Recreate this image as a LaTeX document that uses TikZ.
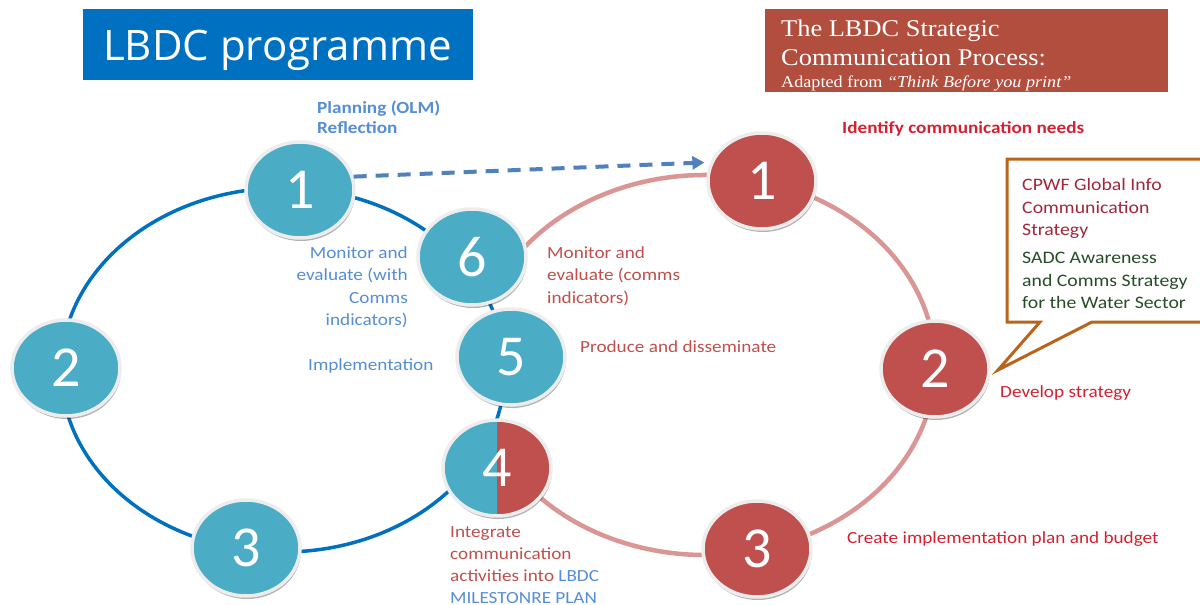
\documentclass[tikz,border=0pt]{standalone}
\usepackage{fontspec}
\setmainfont{Carlito}[FakeStretch=1.13]
\newfontfamily\titlefont{Open Sans}
\newfontfamily\cambfont{Liberation Serif}[FakeStretch=1.1]
\newfontfamily\digitfont{Carlito}
\usetikzlibrary{shapes.geometric,arrows.meta,shadows}
\definecolor{teal1}{HTML}{4BACC6}
\definecolor{red1}{HTML}{C0504D}
\definecolor{ringblue}{HTML}{0070C0}
\definecolor{ringpink}{HTML}{D99694}
\definecolor{dashblue}{HTML}{4F81BD}
\definecolor{lblblue}{HTML}{558ED5}
\definecolor{lblred}{HTML}{C0504D}
\definecolor{crimson}{HTML}{D42030}
\definecolor{titleblue}{HTML}{0070C0}
\definecolor{titlered}{HTML}{B14E3E}
\definecolor{calloutc}{HTML}{B8651B}
\definecolor{cpwf}{HTML}{A0283C}
\definecolor{sadc}{HTML}{264D26}
\begin{document}
\begin{tikzpicture}[x=1pt,y=-1pt,
  stepcirc/.style={ellipse, minimum width=108pt, minimum height=96pt, inner sep=0pt,
    draw=white!93!black, line width=3.5pt, text=white,
    font=\digitfont\fontsize{58}{58}\selectfont,
    drop shadow={shadow xshift=1pt, shadow yshift=-3pt, fill=black, opacity=0.3}},
  bluecirc/.style={stepcirc, fill=teal1},
  redcirc/.style={stepcirc, fill=red1},
  lbl/.style={inner sep=0pt, font=\fontsize{17}{22}\selectfont},
  lblL/.style={lbl, anchor=base west},
  lblR/.style={lbl, anchor=base east},
  boldlbl/.style={inner sep=0pt, anchor=base west, font=\fontsize{17}{20}\selectfont\bfseries},
  camb/.style={inner sep=0pt, anchor=base west, text=white},
]
\useasboundingbox (0,0) rectangle (1200,605);
\fill[white] (0,0) rectangle (1200,605);

% rings
\draw[ringblue, line width=3.5pt] (283,370) ellipse [x radius=222, y radius=182];
\draw[ringpink, line width=4.5pt] ([shift={(147:230 and 190)}]705,365)
  arc[start angle=147, end angle=-149, x radius=230, y radius=190];

% title boxes
\node[fill=titleblue, minimum width=390pt, minimum height=71pt, inner sep=0pt] (T1) at (278,44.5) {};
\node[anchor=base, inner sep=0pt, text=white, font=\titlefont\fontsize{42}{50}\selectfont] (T1t) at (277.5,60) {LBDC programme};
\node[fill=titlered, minimum width=403pt, minimum height=83pt, inner sep=0pt] (T2) at (966.5,50.5) {};
\node[camb, font=\cambfont\fontsize{24}{28}\selectfont] (T2a) at (781,36) {The LBDC Strategic};
\node[camb, font=\cambfont\fontsize{24}{28}\selectfont] (T2b) at (781,65) {Communication Process:};
\node[camb, font=\cambfont\fontsize{16.5}{20}\selectfont] (T2c) at (781,87) {Adapted from \textit{“Think Before you print”}};

% callout
\draw[calloutc, line width=3pt, fill=white, line join=miter]
  (1007,159) -- (1206,159) -- (1206,322) -- (1092,322) -- (998,370) -- (1040,322) -- (1007,322) -- cycle;
\node[lblL, text=cpwf, font=\fontsize{17.5}{22}\selectfont] (cp1) at (1022,190) {CPWF Global Info};
\node[lblL, text=cpwf, font=\fontsize{17.5}{22}\selectfont] (cp2) at (1022,213) {Communication};
\node[lblL, text=cpwf, font=\fontsize{17.5}{22}\selectfont] (cp3) at (1022,235) {Strategy};
\node[lblL, text=sadc, font=\fontsize{17.5}{22}\selectfont] (sa1) at (1022,263) {SADC Awareness};
\node[lblL, text=sadc, font=\fontsize{17.5}{22}\selectfont] (sa2) at (1022,286) {and Comms Strategy};
\node[lblL, text=sadc, font=\fontsize{17.5}{22}\selectfont] (sa3) at (1022,308) {for the Water Sector};

% circles
\node[bluecirc] (L1) at (300,190) {1};
\node[bluecirc] (L2) at (66,368) {2};
\node[bluecirc] (L3) at (246,548) {3};
\node[bluecirc] (C6) at (472,257) {6};
\node[bluecirc] (C5) at (511,357) {5};
\node[stepcirc, fill=teal1, path picture={\fill[red1] (path picture bounding box.north) rectangle (path picture bounding box.south east);}] (C4) at (497,468) {4};
\node[redcirc] (R1) at (762,181) {1};
\node[redcirc] (R2) at (935,369) {2};
\node[redcirc] (R3) at (757,549) {3};

% dashed arrow
\draw[dashblue, line width=4pt, dash pattern=on 13pt off 9pt,
  -{Triangle[length=12pt, width=13pt]}, shorten >=6pt] (L1.14) -- (R1.160);

% labels
\node[boldlbl, text=lblblue] (pl1) at (317,113) {Planning (OLM)};
\node[boldlbl, text=lblblue] (pl2) at (317,133) {Reflection};
\node[boldlbl, text=crimson] (id) at (842,133) {Identify communication needs};

\node[lblR, text=lblblue] (lm1) at (408,258) {Monitor and};
\node[lblR, text=lblblue] (lm2) at (408,280.5) {evaluate (with};
\node[lblR, text=lblblue] (lm3) at (408,303) {Comms};
\node[lblR, text=lblblue] (lm4) at (408,325.5) {indicators)};

\node[lblL, text=lblred] (rm1) at (547,258) {Monitor and};
\node[lblL, text=lblred] (rm2) at (547,280.5) {evaluate (comms};
\node[lblL, text=lblred] (rm3) at (547,303) {indicators)};

\node[lblL, text=lblblue] (impl) at (308,370) {Implementation};
\node[lblL, text=lblred] (prod) at (580,352) {Produce and disseminate};

\node[lblL, text=lblred] (in1) at (450,537) {Integrate};
\node[lblL, text=lblred] (in2) at (450,559) {communication};
\node[lblL, text=lblred] (in3) at (450,581) {activities into \textcolor{lblblue}{LBDC}};
\node[lblL, text=lblblue] (in4) at (450,603) {MILESTONRE PLAN};

\node[lblL, text=crimson] (crt) at (847,543) {Create implementation plan and budget};
\node[lblL, text=crimson] (dev) at (1000,397) {Develop strategy};
\end{tikzpicture}
\end{document}
